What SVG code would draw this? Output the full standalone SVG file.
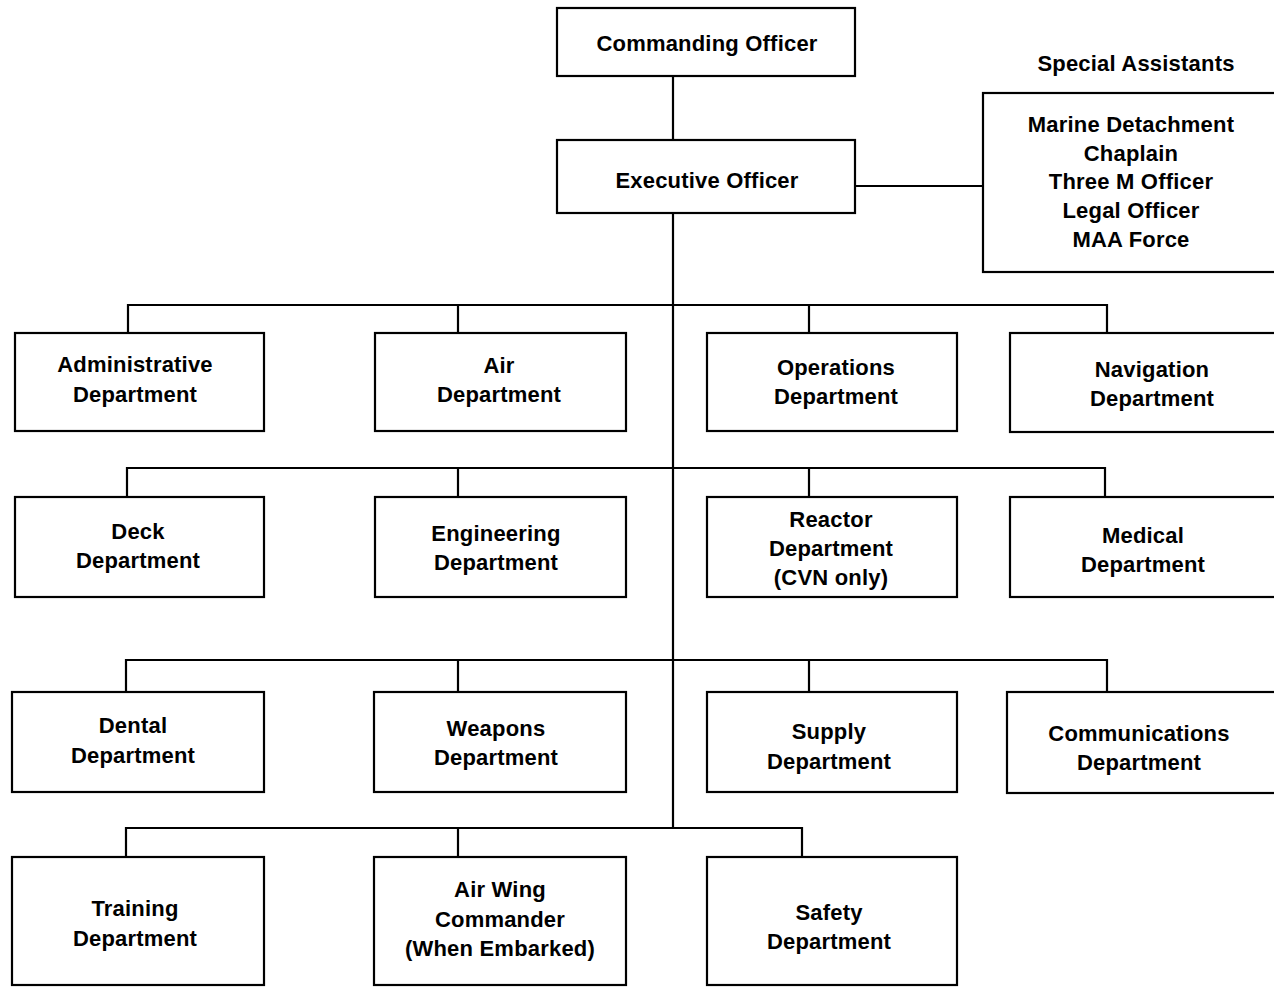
<svg xmlns="http://www.w3.org/2000/svg" width="1274" height="988" viewBox="0 0 1274 988">
<style>
.b{fill:#fff;stroke:#000;stroke-width:2.2}
.c{fill:none;stroke:#000;stroke-width:2.2}
text{font-family:"Liberation Sans",Arial,sans-serif;font-weight:bold;font-size:22px;letter-spacing:0.2px;text-anchor:middle;fill:#000}
</style>
<rect width="1274" height="988" fill="#fff"/>
<g id="connectors" class="c">
<path d="M673 76V140M855 186H983M673 213V828"/>
<path d="M128 333V305H1107V333M458 305V333M809 305V333"/>
<path d="M127 497V468H1105V497M458 468V497M809 468V497"/>
<path d="M126 692V660H1107V692M458 660V692M809 660V692"/>
<path d="M126 857V828H802V857M458 828V857"/>
</g>
<g id="commanding"><rect class="b" x="557" y="8" width="298" height="68"/><text x="707" y="51">Commanding Officer</text></g>
<g id="executive"><rect class="b" x="557" y="140" width="298" height="73"/><text x="707" y="188">Executive Officer</text></g>
<g id="special"><text x="1136" y="71">Special Assistants</text><rect class="b" x="983" y="93" width="300" height="179"/>
<text x="1131" y="132">Marine Detachment</text><text x="1131" y="161">Chaplain</text><text x="1131" y="189">Three M Officer</text><text x="1131" y="218">Legal Officer</text><text x="1131" y="247">MAA Force</text></g>
<g id="admin"><rect class="b" x="15" y="333" width="249" height="98"/><text x="135" y="372">Administrative</text><text x="135" y="402">Department</text></g>
<g id="air"><rect class="b" x="375" y="333" width="251" height="98"/><text x="499" y="373">Air</text><text x="499" y="402">Department</text></g>
<g id="operations"><rect class="b" x="707" y="333" width="250" height="98"/><text x="836" y="375">Operations</text><text x="836" y="404">Department</text></g>
<g id="navigation"><rect class="b" x="1010" y="333" width="280" height="99"/><text x="1152" y="377">Navigation</text><text x="1152" y="406">Department</text></g>
<g id="deck"><rect class="b" x="15" y="497" width="249" height="100"/><text x="138" y="539">Deck</text><text x="138" y="568">Department</text></g>
<g id="engineering"><rect class="b" x="375" y="497" width="251" height="100"/><text x="496" y="541">Engineering</text><text x="496" y="570">Department</text></g>
<g id="reactor"><rect class="b" x="707" y="497" width="250" height="100"/><text x="831" y="527">Reactor</text><text x="831" y="556">Department</text><text x="831" y="585">(CVN only)</text></g>
<g id="medical"><rect class="b" x="1010" y="497" width="280" height="100"/><text x="1143" y="543">Medical</text><text x="1143" y="572">Department</text></g>
<g id="dental"><rect class="b" x="12" y="692" width="252" height="100"/><text x="133" y="733">Dental</text><text x="133" y="763">Department</text></g>
<g id="weapons"><rect class="b" x="374" y="692" width="252" height="100"/><text x="496" y="736">Weapons</text><text x="496" y="765">Department</text></g>
<g id="supply"><rect class="b" x="707" y="692" width="250" height="100"/><text x="829" y="739">Supply</text><text x="829" y="769">Department</text></g>
<g id="communications"><rect class="b" x="1007" y="692" width="283" height="101"/><text x="1139" y="741">Communications</text><text x="1139" y="770">Department</text></g>
<g id="training"><rect class="b" x="12" y="857" width="252" height="128"/><text x="135" y="916">Training</text><text x="135" y="946">Department</text></g>
<g id="airwing"><rect class="b" x="374" y="857" width="252" height="128"/><text x="500" y="897">Air Wing</text><text x="500" y="927">Commander</text><text x="500" y="956">(When Embarked)</text></g>
<g id="safety"><rect class="b" x="707" y="857" width="250" height="128"/><text x="829" y="920">Safety</text><text x="829" y="949">Department</text></g>
</svg>
